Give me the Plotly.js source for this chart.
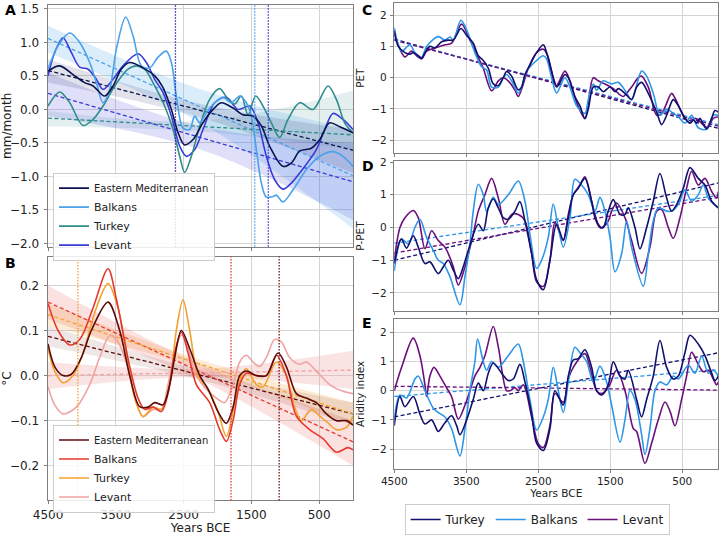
<!DOCTYPE html>
<html>
<head>
<meta charset="utf-8">
<script src="https://cdn.plot.ly/plotly-3.0.1.min.js"></script>
<style>html,body{margin:0;padding:0;background:#fff}#chart{width:720px;height:535px}</style>
</head>
<body>
<div id="chart"></div>
<script>
// ---- panel A: precipitation anomaly (mm/month) ----
var aEmX = [4500, 4330, 4105, 3960, 3835, 3665, 3540, 3420, 3295, 3100, 2925, 2805, 2680, 2580, 2485, 2360, 2215, 2065, 1945, 1770, 1625, 1475, 1350, 1230, 1035, 910, 785, 615, 490, 345, 195, 0]
var aEmY = [0.57, 0.65, 0.5, 0.4, 0.35, 0.2, 0.35, 0.6, 0.7, 0.62, 0.5, 0.33, 0.0, -0.35, -0.53, -0.45, -0.2, 0.0, 0.1, 0.02, -0.08, -0.1, -0.25, -0.55, -0.85, -0.8, -0.62, -0.58, -0.45, -0.2, -0.26, -0.35]
var aBalX = [4500, 4352, 4180, 4033, 3885, 3787, 3689, 3590, 3492, 3354, 3246, 3123, 2998, 2877, 2754, 2680, 2607, 2508, 2410, 2336, 2262, 2164, 2041, 1918, 1795, 1672, 1574, 1500, 1426, 1352, 1279, 1180, 1131, 1033, 885, 689, 492, 295, 148, 0]
var aBalY = [0.6, 0.95, 1.14, 1.0, 0.7, 0.4, 0.1, 0.3, 0.9, 1.38, 1.1, 0.65, 0.62, 0.78, 0.87, 0.7, 0.2, -0.28, -0.3, -0.1, -0.2, -0.05, 0.1, 0.18, 0.1, 0.2, 0.1, -0.1, -0.6, -1.1, -1.31, -1.3, -1.28, -1.38, -1.2, -0.9, -0.7, -0.63, -0.7, -0.85]
var aTurX = [4500, 4328, 4180, 3984, 3836, 3689, 3516, 3320, 3197, 3074, 2926, 2779, 2656, 2557, 2484, 2385, 2262, 2115, 1967, 1844, 1746, 1648, 1549, 1436, 1328, 1205, 1082, 959, 787, 590, 369, 246, 123, 0]
var aTurY = [0.05, 0.26, 0.1, -0.24, -0.15, 0.05, 0.35, 0.6, 0.65, 0.6, 0.35, 0.05, -0.3, -0.7, -0.94, -0.7, -0.25, 0.15, 0.31, 0.15, 0.08, 0.2, -0.08, 0.2, 0.05, -0.2, -0.42, -0.15, 0.1, 0.0, 0.35, 0.15, -0.2, -0.35]
var aLevX = [4500, 4402, 4279, 4156, 4033, 3910, 3787, 3689, 3541, 3393, 3172, 3049, 2926, 2803, 2680, 2557, 2459, 2336, 2213, 2041, 1869, 1697, 1524, 1402, 1279, 1156, 1033, 910, 787, 541, 418, 295, 148, 0]
var aLevY = [0.5, 0.85, 1.07, 0.85, 0.63, 0.6, 0.45, 0.3, 0.45, 0.65, 0.83, 0.7, 0.45, 0.25, -0.1, -0.55, -0.7, -0.6, -0.3, 0.1, 0.18, 0.0, 0.05, -0.2, -0.7, -1.05, -1.19, -1.1, -0.95, -0.6, -0.3, -0.06, -0.15, -0.3]

var trendX = [4500, 0]
var aEmTrend = [0.58, -0.61]
var aBalTrend = [1.06, -0.99]
var aTurTrend = [-0.13, -0.38]
var aLevTrend = [0.24, -1.08]

var bandX = [4500, 2250, 0]
var aEmHi = [0.75, 0.08, -0.3], aEmLo = [0.4, -0.12, -0.95]
var aBalHi = [1.25, 0.3, -0.3], aBalLo = [0.85, -0.2, -1.78]
var aTurHi = [-0.02, -0.17, 0.28], aTurLo = [-0.25, -0.33, -0.6]
var aLevHi = [0.55, -0.25, -0.5], aLevLo = [-0.1, -0.6, -1.65]

var aBreaks = [2620, 1450, 1250]

// ---- panel B: temperature anomaly (°C) ----
var bEmX = [4500, 4402, 4279, 4156, 4008, 3861, 3615, 3443, 3295, 3148, 3025, 2926, 2803, 2705, 2631, 2533, 2410, 2262, 2139, 1992, 1869, 1770, 1672, 1574, 1426, 1279, 1107, 984, 836, 689, 541, 393, 246, 98, 0]
var bEmY = [0.07, 0.02, 0.0, 0.003, 0.04, 0.1, 0.163, 0.1, 0.0, -0.069, -0.07, -0.06, -0.065, -0.02, 0.04, 0.1, 0.06, 0.0, -0.03, -0.08, -0.106, -0.07, 0.0, 0.01, 0.0, 0.0, 0.05, 0.02, -0.04, -0.05, -0.06, -0.085, -0.1, -0.1, -0.11]
var bBalX = [4500, 4352, 4180, 4033, 3836, 3615, 3492, 3295, 3172, 3074, 2951, 2828, 2730, 2631, 2533, 2434, 2311, 2115, 1967, 1869, 1770, 1672, 1574, 1426, 1279, 1131, 984, 836, 639, 443, 246, 74, 0]
var bBalY = [0.16, 0.1, 0.068, 0.08, 0.15, 0.237, 0.17, 0.02, -0.05, -0.075, -0.07, -0.08, -0.04, 0.05, 0.096, 0.05, -0.02, -0.06, -0.12, -0.146, -0.1, -0.02, 0.005, 0.0, 0.0, 0.045, 0.0, -0.09, -0.12, -0.14, -0.17, -0.16, -0.165]
var bTurX = [4500, 4402, 4279, 4131, 3984, 3787, 3615, 3467, 3344, 3221, 3098, 2951, 2828, 2705, 2607, 2508, 2410, 2287, 2139, 1992, 1869, 1770, 1648, 1574, 1426, 1328, 1131, 984, 861, 762, 615, 492, 369, 246, 98, 0]
var bTurY = [0.06, 0.01, -0.016, 0.0, 0.05, 0.15, 0.204, 0.15, 0.05, -0.05, -0.091, -0.07, -0.075, -0.02, 0.1, 0.168, 0.1, 0.0, -0.03, -0.08, -0.135, -0.08, 0.0, 0.015, -0.02, -0.025, 0.03, 0.0, -0.07, -0.1, -0.075, -0.09, -0.105, -0.12, -0.115, -0.09]
var bLevX = [4500, 4402, 4279, 4082, 3885, 3738, 3590, 3492, 3344, 3197, 3098, 2951, 2828, 2730, 2631, 2533, 2434, 2311, 2164, 2016, 1893, 1770, 1672, 1574, 1475, 1377, 1279, 1156, 1057, 935, 787, 689, 541, 344, 148, 0]
var bLevY = [-0.025, -0.065, -0.085, -0.07, -0.02, 0.04, 0.089, 0.08, 0.03, -0.06, -0.091, -0.075, -0.075, -0.02, 0.05, 0.09, 0.06, 0.0, -0.03, -0.05, -0.06, -0.02, 0.03, 0.045, 0.03, 0.02, 0.04, 0.08, 0.075, 0.04, 0.025, 0.03, 0.01, -0.02, -0.035, -0.04]

var bEmTrend = [0.087, -0.085]
var bBalTrend = [0.163, -0.147]
var bTurTrend = [0.135, -0.085]
var bLevTrend = [0.0, 0.012]

var bEmHi = [0.11, 0.012, -0.06], bEmLo = [0.065, -0.01, -0.11]
var bBalHi = [0.2, 0.025, -0.1], bBalLo = [0.125, -0.01, -0.2]
var bTurHi = [0.16, 0.035, -0.06], bTurLo = [0.11, 0.015, -0.11]
var bLevHi = [0.03, 0.015, 0.055], bLevLo = [-0.03, -0.003, -0.03]

var bBreaks = [4060, 1800, 1090]

// ---- panel C: PET ----
var cTurX = [4500, 4444, 4352, 4282, 4236, 4167, 4120, 4074, 4005, 3935, 3843, 3750, 3680, 3574, 3495, 3403, 3333, 3264, 3194, 3125, 3055, 2986, 2940, 2870, 2824, 2778, 2731, 2685, 2616, 2523, 2430, 2384, 2315, 2245, 2130, 2083, 1991, 1921, 1852, 1805, 1736, 1667, 1597, 1504, 1435, 1389, 1296, 1204, 1134, 1065, 972, 856, 787, 717, 671, 625, 555, 463, 393, 347, 301, 255, 208, 162, 92, 46, 0]
var cTurY = [1.5, 1.0, 0.8, 0.75, 0.8, 0.7, 0.62, 0.8, 1.0, 0.95, 1.15, 1.2, 1.2, 1.57, 1.35, 1.1, 0.7, 0.55, 0.3, -0.2, -0.25, 0.0, 0.2, 0.05, -0.2, -0.39, -0.3, 0.1, 0.4, 0.8, 1.05, 0.8, 0.2, -0.3, 0.1, 0.0, -0.6, -0.9, -1.31, -1.0, -0.3, -0.3, -0.45, -0.3, -0.45, -0.35, -0.5, -0.7, -0.3, -0.15, -0.5, -1.1, -1.5, -1.2, -0.9, -0.7, -0.9, -1.3, -1.45, -1.35, -1.45, -1.3, -1.5, -1.64, -1.3, -1.05, -1.1]
var cBalX = [4500, 4398, 4282, 4213, 4120, 4051, 3889, 3796, 3727, 3680, 3574, 3472, 3380, 3287, 3218, 3148, 3055, 2986, 2940, 2870, 2778, 2731, 2662, 2546, 2430, 2384, 2315, 2245, 2130, 2060, 1967, 1852, 1805, 1736, 1690, 1597, 1481, 1389, 1296, 1204, 1065, 995, 903, 810, 717, 648, 555, 463, 370, 324, 278, 162, 69, 0]
var cBalY = [1.6, 0.85, 1.05, 0.8, 0.65, 1.0, 1.31, 1.2, 1.3, 1.2, 1.83, 1.4, 0.8, 0.35, 0.25, -0.3, -0.3, 0.0, 0.1, -0.1, -0.49, -0.3, 0.2, 0.5, 0.7, 0.6, 0.0, -0.49, 0.0, -0.3, -0.9, -1.14, -0.7, -0.2, -0.4, -0.1, -0.2, -0.15, -0.4, -0.7, 0.21, 0.05, -0.5, -1.2, -1.0, -1.1, -1.25, -1.45, -1.2, -1.4, -1.6, -1.65, -1.2, -1.2]
var cLevX = [4500, 4398, 4352, 4259, 4190, 4120, 4051, 3935, 3796, 3704, 3565, 3449, 3333, 3264, 3148, 3055, 2986, 2917, 2824, 2778, 2708, 2639, 2523, 2430, 2370, 2292, 2245, 2130, 2060, 1967, 1852, 1805, 1736, 1667, 1574, 1458, 1365, 1319, 1273, 1204, 1111, 1065, 972, 856, 787, 648, 602, 486, 393, 324, 185, 148, 69, 0]
var cLevY = [1.4, 0.8, 0.66, 0.85, 0.7, 0.6, 0.85, 0.95, 1.05, 1.1, 1.71, 1.2, 0.65, 0.3, -0.42, -0.1, 0.0, -0.1, -0.4, -0.6, -0.2, 0.3, 0.8, 0.91, 0.7, 0.0, -0.25, 0.21, -0.1, -0.8, -1.3, -0.8, 0.0, -0.1, -0.2, -0.35, -0.55, -0.6, -0.5, -0.3, 0.0, 0.05, -0.3, -1.2, -1.15, -0.5, -0.65, -1.2, -1.45, -1.3, -1.55, -1.6, -1.3, -1.25]
var cTurTrend = [1.23, -1.62]
var cBalTrend = [1.2, -1.5]
var cLevTrend = [1.2, -1.55]

// ---- panel D: P-PET ----
var dTurX = [4500, 4421, 4398, 4329, 4236, 4167, 4074, 4005, 3889, 3819, 3750, 3680, 3611, 3542, 3472, 3333, 3264, 3194, 3125, 3055, 2986, 2917, 2824, 2755, 2685, 2592, 2523, 2430, 2338, 2245, 2153, 2083, 2014, 1944, 1852, 1759, 1713, 1643, 1597, 1528, 1458, 1365, 1296, 1250, 1157, 1088, 995, 903, 810, 717, 648, 579, 486, 393, 278, 185, 92, 0]
var dTurY = [-1.1, -0.4, -0.35, -0.63, -0.25, -0.6, -1.1, -1.05, -1.41, -1.2, -1.0, -1.3, -1.56, -1.2, -0.7, 0.1, -0.1, 0.6, 0.87, 0.6, 0.3, 0.25, 0.5, 0.79, 0.2, -0.8, -1.6, -1.9, -1.0, 0.1, -0.38, 0.3, 1.0, 1.2, 1.5, 0.8, 0.3, 0.0, 0.0, 0.5, 0.85, 0.4, 0.4, 0.6, 0.0, -0.65, 0.0, 0.8, 1.65, 0.9, 0.5, 0.7, 1.2, 1.83, 1.5, 1.3, 0.8, 0.6]
var dBalX = [4500, 4398, 4306, 4213, 4144, 4051, 3958, 3889, 3819, 3727, 3588, 3518, 3449, 3403, 3333, 3264, 3218, 3125, 3055, 2917, 2778, 2685, 2616, 2523, 2454, 2361, 2292, 2222, 2153, 2060, 1991, 1898, 1805, 1713, 1643, 1574, 1504, 1435, 1342, 1273, 1204, 1041, 972, 903, 833, 717, 648, 555, 463, 370, 278, 208, 139, 0]
var dBalY = [-1.33, -0.35, -0.5, 0.0, 0.25, -0.3, -0.7, -1.0, -1.1, -1.5, -2.36, -1.5, -0.5, 0.5, 1.32, 1.0, 0.5, 0.92, 0.7, 1.0, 1.42, 0.8, -0.2, -1.25, -1.0, -0.3, 0.72, 0.0, -0.6, 0.3, 1.47, 1.3, 1.0, 0.5, 0.92, 0.5, -0.3, -1.35, -0.8, 0.2, -0.6, -1.79, -0.8, 0.2, 0.6, 0.5, 0.5, 0.7, 1.15, 0.8, 1.0, 1.3, 0.9, 0.6]
var dLevX = [4500, 4421, 4352, 4236, 4167, 4074, 3981, 3889, 3796, 3680, 3611, 3518, 3403, 3333, 3241, 3148, 3055, 2963, 2870, 2778, 2685, 2592, 2523, 2430, 2338, 2268, 2153, 2083, 2014, 1921, 1852, 1759, 1667, 1620, 1528, 1481, 1412, 1296, 1204, 1065, 949, 856, 787, 694, 625, 532, 440, 370, 278, 185, 92, 23, 0]
var dLevY = [-1.0, 0.0, 0.3, 0.52, 0.3, -0.65, -0.1, -0.4, -0.6, -1.2, -1.76, -1.2, -0.2, 0.5, 1.0, 1.5, 0.9, 0.1, 0.4, 0.4, 0.2, -0.8, -1.66, -1.8, -1.0, 0.15, -0.4, 0.4, 1.0, 1.3, 1.55, 0.8, 0.1, 0.0, 0.2, 0.5, 0.75, 0.3, -0.4, -1.4, -0.6, 0.5, 0.55, 0.0, -0.33, 0.3, 1.2, 1.72, 1.3, 1.5, 1.1, 0.9, 1.1]
var dTurTrend = [-1.0, 1.36]
var dBalTrend = [-0.48, 0.98]
var dLevTrend = [-0.78, 0.92]

// ---- panel E: aridity index ----
var eTurX = [4500, 4421, 4352, 4236, 4144, 4074, 3981, 3935, 3889, 3796, 3704, 3634, 3588, 3495, 3403, 3333, 3264, 3194, 3125, 3009, 2917, 2847, 2755, 2685, 2592, 2523, 2430, 2338, 2268, 2153, 2083, 2014, 1944, 1852, 1759, 1690, 1620, 1528, 1458, 1365, 1296, 1250, 1134, 1065, 995, 903, 810, 717, 625, 555, 463, 393, 278, 185, 92, 46, 0]
var eTurY = [-1.2, -0.2, -0.55, -0.2, -0.8, -1.14, -1.0, -1.2, -1.4, -1.1, -0.86, -1.2, -1.51, -1.0, -0.3, 0.26, 0.0, 0.6, 0.95, 0.6, 0.35, 0.4, 0.9, 0.3, -0.8, -1.8, -2.05, -1.3, 0.0, -0.49, 0.5, 1.05, 1.1, 1.4, 0.8, 0.0, -0.15, 0.2, 0.99, 0.5, 0.4, 0.7, -0.3, -0.9, -0.3, 0.5, 1.72, 0.8, 0.4, 0.5, 1.3, 1.9, 1.6, 1.2, 0.6, 0.35, 0.5]
var eBalX = [4500, 4421, 4329, 4213, 4167, 4074, 3958, 3889, 3796, 3704, 3588, 3518, 3449, 3380, 3343, 3264, 3218, 3148, 3055, 2917, 2778, 2708, 2616, 2523, 2430, 2361, 2292, 2222, 2153, 2083, 1991, 1921, 1829, 1736, 1643, 1551, 1481, 1365, 1296, 1227, 1157, 1065, 1018, 949, 879, 810, 717, 625, 555, 416, 324, 231, 139, 69, 0]
var eBalY = [-1.0, -0.15, -0.25, 0.4, 0.5, 0.0, -0.6, -0.75, -0.9, -1.3, -2.24, -1.3, 0.0, 1.0, 1.77, 1.0, 0.7, 1.0, 0.8, 1.2, 1.6, 1.0, -0.3, -1.35, -0.9, -0.3, 0.8, 0.0, -0.75, 0.3, 1.49, 1.3, 1.0, 0.3, 0.84, 0.3, -0.5, -1.76, -1.0, 0.0, -0.3, -1.5, -2.19, -1.3, 0.0, 0.3, 0.2, 0.5, 0.4, 0.87, 0.6, 1.18, 0.6, 0.7, 0.5]
var eLevX = [4500, 4398, 4236, 4144, 4074, 4051, 4005, 3949, 3866, 3773, 3704, 3611, 3518, 3449, 3380, 3310, 3241, 3125, 3055, 2940, 2893, 2824, 2778, 2708, 2592, 2500, 2430, 2338, 2268, 2153, 2083, 2014, 1852, 1782, 1690, 1620, 1528, 1412, 1296, 1180, 1134, 1018, 926, 833, 740, 671, 602, 509, 440, 370, 278, 208, 139, 69, 23, 0]
var eLevY = [0.0, 0.8, 1.8, 1.2, 0.2, -0.2, 0.5, 0.8, 0.5, 0.1, -0.2, -0.97, -0.5, 0.0, 0.5, 0.8, 1.2, 2.2, 1.5, 0.0, 0.0, 0.1, 0.0, 0.2, -0.9, -1.82, -1.95, -1.2, -0.1, -0.4, 0.4, 0.8, 1.27, 0.8, 0.0, -0.1, 0.1, 0.7, 0.0, -1.3, -1.4, -2.49, -1.8, -1.0, -0.39, -0.7, -1.2, -0.3, 0.5, 1.32, 0.9, 0.65, 0.7, 0.4, 0.2, 0.3]
var eTurTrend = [-0.9, 1.3]
var eBalTrend = [-0.2, 0.72]
var eLevTrend = [0.15, 0.02]

var yearTicks = [4500, 3500, 2500, 1500, 500]

// ---- colours ----
var colA = {em: '#0b1350', bal: '#4aa2ea', tur: '#2e8c8a', lev: '#3a3ad8'}
var colB = {em: '#5e0b0b', bal: '#e5392f', tur: '#f4a12f', lev: '#f0a3a3'}
var colC = {tur: '#10106e', bal: '#2e96e8', lev: '#6c0f7c'}

function rgba(hex, a) {
    var n = parseInt(hex.slice(1), 16)
    return 'rgba(' + (n >> 16) + ',' + ((n >> 8) & 255) + ',' + (n & 255) + ',' + a + ')'
}

var data = []

function band(hi, lo, xa, ya, color, a) {
    data.push({x: bandX, y: lo, xaxis: xa, yaxis: ya, mode: 'lines', line: {width: 0, shape: 'spline'},
        showlegend: false, hoverinfo: 'skip'})
    data.push({x: bandX, y: hi, xaxis: xa, yaxis: ya, mode: 'lines', line: {width: 0, shape: 'spline'},
        fill: 'tonexty', fillcolor: rgba(color, a), showlegend: false, hoverinfo: 'skip'})
}

function trend(vals, xa, ya, color) {
    data.push({x: trendX, y: vals, xaxis: xa, yaxis: ya, mode: 'lines',
        line: {color: color, width: 1.3, dash: '4px,2.5px'}, showlegend: false, hoverinfo: 'skip'})
}

function curve(x, y, xa, ya, name, color, legend, show) {
    data.push({x: x, y: y, xaxis: xa, yaxis: ya, mode: 'lines', name: name,
        line: {color: color, width: 1.6, shape: 'spline', smoothing: 0.9},
        legend: legend, showlegend: show})
}

// panel A
band(aTurHi, aTurLo, 'x', 'y', colA.tur, 0.13)
band(aBalHi, aBalLo, 'x', 'y', colA.bal, 0.2)
band(aLevHi, aLevLo, 'x', 'y', colA.lev, 0.16)
band(aEmHi, aEmLo, 'x', 'y', colA.em, 0.12)
trend(aEmTrend, 'x', 'y', colA.em)
trend(aBalTrend, 'x', 'y', colA.bal)
trend(aTurTrend, 'x', 'y', colA.tur)
trend(aLevTrend, 'x', 'y', colA.lev)
var emName = '<span style="font-size:10px">Eastern Mediterranean</span>'
curve(aLevX, aLevY, 'x', 'y', 'Levant', colA.lev, 'legend', true)
curve(aTurX, aTurY, 'x', 'y', 'Turkey', colA.tur, 'legend', true)
curve(aBalX, aBalY, 'x', 'y', 'Balkans', colA.bal, 'legend', true)
curve(aEmX, aEmY, 'x', 'y', emName, colA.em, 'legend', true)

// panel B
band(bLevHi, bLevLo, 'x2', 'y2', colB.lev, 0.3)
band(bTurHi, bTurLo, 'x2', 'y2', colB.tur, 0.2)
band(bBalHi, bBalLo, 'x2', 'y2', colB.bal, 0.15)
band(bEmHi, bEmLo, 'x2', 'y2', colB.em, 0.1)
trend(bEmTrend, 'x2', 'y2', colB.em)
trend(bBalTrend, 'x2', 'y2', colB.bal)
trend(bTurTrend, 'x2', 'y2', colB.tur)
trend(bLevTrend, 'x2', 'y2', colB.lev)
curve(bLevX, bLevY, 'x2', 'y2', 'Levant', colB.lev, 'legend2', true)
curve(bTurX, bTurY, 'x2', 'y2', 'Turkey', colB.tur, 'legend2', true)
curve(bBalX, bBalY, 'x2', 'y2', 'Balkans', colB.bal, 'legend2', true)
curve(bEmX, bEmY, 'x2', 'y2', emName, colB.em, 'legend2', true)

// panels C, D, E
trend(cTurTrend, 'x3', 'y3', colC.tur)
trend(cBalTrend, 'x3', 'y3', colC.bal)
trend(cLevTrend, 'x3', 'y3', colC.lev)
curve(cLevX, cLevY, 'x3', 'y3', 'Levant', colC.lev, 'legend3', false)
curve(cBalX, cBalY, 'x3', 'y3', 'Balkans', colC.bal, 'legend3', false)
curve(cTurX, cTurY, 'x3', 'y3', 'Turkey', colC.tur, 'legend3', false)

trend(dTurTrend, 'x4', 'y4', colC.tur)
trend(dBalTrend, 'x4', 'y4', colC.bal)
trend(dLevTrend, 'x4', 'y4', colC.lev)
curve(dLevX, dLevY, 'x4', 'y4', 'Levant', colC.lev, 'legend3', false)
curve(dBalX, dBalY, 'x4', 'y4', 'Balkans', colC.bal, 'legend3', false)
curve(dTurX, dTurY, 'x4', 'y4', 'Turkey', colC.tur, 'legend3', false)

trend(eTurTrend, 'x5', 'y5', colC.tur)
trend(eBalTrend, 'x5', 'y5', colC.bal)
trend(eLevTrend, 'x5', 'y5', colC.lev)
curve(eLevX, eLevY, 'x5', 'y5', 'Levant', colC.lev, 'legend3', true)
curve(eBalX, eBalY, 'x5', 'y5', 'Balkans', colC.bal, 'legend3', true)
curve(eTurX, eTurY, 'x5', 'y5', 'Turkey', colC.tur, 'legend3', true)

// vertical change-point lines
var shapes = []
var aBreakCol = ['#2a2aa8', '#4aa2ea', '#3a3ad8']
var bBreakCol = ['#f4a12f', '#e5392f', '#7a1010']
aBreaks.forEach(function(v, i) {
    shapes.push({type: 'line', xref: 'x', yref: 'y domain', x0: v, x1: v, y0: 0, y1: 1,
        line: {color: aBreakCol[i], width: 1.3, dash: '1.5px,1.5px'}})
})
bBreaks.forEach(function(v, i) {
    shapes.push({type: 'line', xref: 'x2', yref: 'y2 domain', x0: v, x1: v, y0: 0, y1: 1,
        line: {color: bBreakCol[i], width: 1.3, dash: '1.5px,1.5px'}})
})

var font = 'DejaVu Sans, sans-serif'
function xax(domain, anchor, labels, size, title) {
    var ax = {domain: domain, anchor: anchor, range: [4500, 0], tickvals: yearTicks,
        showticklabels: labels, tickfont: {size: size}, ticks: 'outside', ticklen: 3,
        tickcolor: '#808080', showgrid: true, gridcolor: '#d4d4d4', zeroline: false,
        showline: true, linecolor: '#808080', mirror: true, automargin: false}
    if (title) ax.title = {text: title, font: {size: size}, standoff: 3}
    return ax
}
function yax(domain, anchor, range, dtick, fmt, size, tsize, title, pad) {
    return {domain: domain, anchor: anchor, range: range, dtick: dtick, tickformat: fmt,
        tickfont: {size: size}, ticks: 'outside', ticklen: 3.5, tickcolor: '#808080',
        ticklabelstandoff: pad, showgrid: true, gridcolor: '#d4d4d4', zeroline: false, showline: true,
        linecolor: '#808080', mirror: true, automargin: false,
        title: {text: title, font: {size: tsize}, standoff: 4}}
}

var L = [0.0667, 0.4903], R = [0.5476, 0.9976]
var layout = {
    width: 720, height: 535,
    margin: {l: 0, r: 0, t: 0, b: 0},
    paper_bgcolor: '#fff', plot_bgcolor: '#fff',
    font: {family: font, color: '#222', size: 12},
    xaxis: xax(L, 'y', false, 12),
    yaxis: yax([0.5327, 0.9907], 'x', [-2.05, 1.56], 0.5, '.1f', 12, 12, 'mm/month', 2),
    xaxis2: xax(L, 'y2', true, 12, 'Years BCE'),
    yaxis2: yax([0.0523, 0.514], 'x2', [-0.277, 0.264], 0.1, '.1f', 12, 12, '°C', 2),
    xaxis3: xax(R, 'y3', false, 10.5),
    yaxis3: yax([0.710, 0.994], 'x3', [-2.41, 2.38], 1, 'd', 10.5, 10.5, 'PET', 1),
    xaxis4: xax(R, 'y4', false, 10.5),
    yaxis4: yax([0.411, 0.695], 'x4', [-2.55, 2.03], 1, 'd', 10.5, 10.5, 'P-PET', 1),
    xaxis5: xax(R, 'y5', true, 10.5, 'Years BCE'),
    yaxis5: yax([0.112, 0.396], 'x5', [-2.68, 2.46], 1, 'd', 10.5, 10.5, 'Aridity index', 1),
    legend: {x: 0.0736, y: 0.673, xanchor: 'left', yanchor: 'top', traceorder: 'reversed',
        bgcolor: 'rgba(255,255,255,0.85)', bordercolor: '#cccccc', borderwidth: 1,
        font: {size: 11}, itemwidth: 30, tracegroupgap: 0},
    legend2: {x: 0.0736, y: 0.196, xanchor: 'left', yanchor: 'top', traceorder: 'reversed',
        bgcolor: 'rgba(255,255,255,0.85)', bordercolor: '#cccccc', borderwidth: 1,
        font: {size: 11}, itemwidth: 30, tracegroupgap: 0},
    legend3: {x: 0.746, y: 0.045, xanchor: 'center', yanchor: 'top', orientation: 'h',
        traceorder: 'reversed', bgcolor: '#fff', bordercolor: '#cccccc', borderwidth: 1,
        font: {size: 12}, itemwidth: 30},
    shapes: shapes,
    annotations: [
        {text: '<b>A</b>', x: 0.004, y: 1.0, xref: 'paper', yref: 'paper', xanchor: 'left', yanchor: 'top', showarrow: false, font: {size: 14, color: '#000'}},
        {text: '<b>B</b>', x: 0.004, y: 0.52, xref: 'paper', yref: 'paper', xanchor: 'left', yanchor: 'top', showarrow: false, font: {size: 14, color: '#000'}},
        {text: '<b>C</b>', x: 0.5, y: 1.0, xref: 'paper', yref: 'paper', xanchor: 'left', yanchor: 'top', showarrow: false, font: {size: 14, color: '#000'}},
        {text: '<b>D</b>', x: 0.5, y: 0.705, xref: 'paper', yref: 'paper', xanchor: 'left', yanchor: 'top', showarrow: false, font: {size: 14, color: '#000'}},
        {text: '<b>E</b>', x: 0.5, y: 0.408, xref: 'paper', yref: 'paper', xanchor: 'left', yanchor: 'top', showarrow: false, font: {size: 14, color: '#000'}}
    ]
}

Plotly.newPlot('chart', data, layout, {staticPlot: true})
</script>
</body>
</html>
